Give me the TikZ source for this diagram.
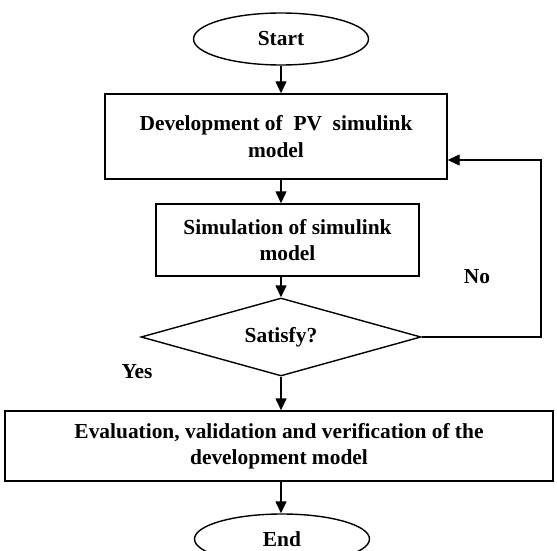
\documentclass[tikz,border=0pt]{standalone}
\usepackage{fontspec}
\setmainfont{Liberation Serif}
\usetikzlibrary{arrows.meta,shapes.geometric}

\begin{document}
\begin{tikzpicture}[x=1pt,y=-1pt,
    every node/.style={font=\fontsize{21.4}{26.5}\selectfont\bfseries,align=center},
    term/.style={ellipse,draw,line width=1.4pt,inner sep=0pt},
    proc/.style={rectangle,draw,line width=1.4pt,inner sep=0pt},
    dec/.style={diamond,draw,line width=1.4pt,inner sep=0pt,aspect=3.6},
    arr/.style={-{Triangle[length=12pt,width=11pt]},line width=1.4pt}]

\clip (0,0) rectangle (557,551);
\useasboundingbox (0,0) rectangle (557,551);

    \node[term,minimum width=175,minimum height=52] (start) at (281,39) {Start};
    \node[proc,minimum width=342,minimum height=85] (dev) at (276,136.5) {Development of\ \ PV\ \ simulink\\model};
    \node[proc,minimum width=263,minimum height=72] (sim) at (287.5,240) {Simulation of simulink\\model};
    \node[dec,minimum width=280,minimum height=78] (sat) at (281,337) {Satisfy?};
    \node[proc,minimum width=548,minimum height=70] (eval) at (279,446) {Evaluation, validation and verification of the\\development model};
    \node[term,minimum width=175,minimum height=50] (end) at (282,539) {End};

    \node (yes) at (137,372) {Yes};
    \node (no) at (477,277) {No};
    \coordinate (fb) at (541,160);

    \draw[arr] (start.south) -- (start.south |- dev.north);
    \draw[arr] (start.south |- dev.south) -- (start.south |- sim.north);
    \draw[arr] (start.south |- sim.south) -- (sat.north);
    \draw[arr] (sat.south) -- (sat.south |- eval.north);
    \draw[arr] (sat.south |- eval.south) -- (sat.south |- end.north);
    \draw[arr] (sat.east) -| (fb) -- (fb -| dev.east);

\end{tikzpicture}
\end{document}
